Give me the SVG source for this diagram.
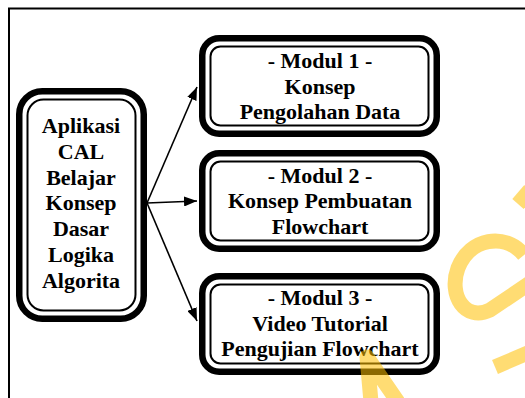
<svg xmlns="http://www.w3.org/2000/svg" width="525" height="398" viewBox="0 0 525 398">
<style>
.frame{fill:none;stroke:#000;stroke-width:2}
.outer{fill:#fff;stroke:#000;stroke-width:6.5}
.inner{fill:none;stroke:#000;stroke-width:2}
.t{font-family:"Liberation Serif","Times New Roman",serif;font-weight:bold;font-size:22px;fill:#000;text-anchor:middle}
.conn{stroke:#000;stroke-width:1.6;fill:none}
.wm{fill:none;stroke:#FFC000;stroke-opacity:0.55;stroke-width:15}
</style>
<defs>
<marker id="ah" markerUnits="userSpaceOnUse" markerWidth="14" markerHeight="10" refX="13" refY="5" orient="auto">
<path d="M0,0 L13,5 L0,10 z" fill="#000"/>
</marker>
</defs>
<rect width="525" height="398" fill="#fff"/>
<path class="frame" d="M9,400 L9,8.5 L530,8.5"/>

<g id="node-main">
<rect class="outer" x="19.25" y="91.25" width="124.5" height="227.5" rx="23"/>
<rect class="inner" x="27.5" y="99.5" width="108" height="211" rx="16"/>
<text class="t" x="81" y="133">Aplikasi</text>
<text class="t" x="81" y="158.8">CAL</text>
<text class="t" x="81" y="184.6">Belajar</text>
<text class="t" x="81" y="210.4">Konsep</text>
<text class="t" x="81" y="236.2">Dasar</text>
<text class="t" x="81" y="262">Logika</text>
<text class="t" x="81" y="287.8">Algorita</text>
</g>

<g id="node-modul1">
<rect class="outer" x="202.25" y="38.25" width="234.5" height="95.5" rx="17"/>
<rect class="inner" x="210.5" y="46.5" width="218" height="79" rx="10"/>
<text class="t" x="320" y="68">- Modul 1 -</text>
<text class="t" x="320" y="93.5">Konsep</text>
<text class="t" x="320" y="119">Pengolahan Data</text>
</g>

<g id="node-modul2">
<rect class="outer" x="202.25" y="153.25" width="234.5" height="95.5" rx="17"/>
<rect class="inner" x="210.5" y="161.5" width="218" height="79" rx="10"/>
<text class="t" x="320" y="182.5">- Modul 2 -</text>
<text class="t" x="320" y="208">Konsep Pembuatan</text>
<text class="t" x="320" y="233.5">Flowchart</text>
</g>

<g id="node-modul3">
<rect class="outer" x="202.25" y="276.25" width="234.5" height="95.5" rx="17"/>
<rect class="inner" x="210.5" y="284.5" width="218" height="79" rx="10"/>
<text class="t" x="320" y="305">- Modul 3 -</text>
<text class="t" x="320" y="330.5">Video Tutorial</text>
<text class="t" x="320" y="356">Pengujian Flowchart</text>
</g>

<g id="connectors">
<line class="conn" x1="147" y1="203" x2="197" y2="87" marker-end="url(#ah)"/>
<line class="conn" x1="147" y1="203" x2="197" y2="201" marker-end="url(#ah)"/>
<line class="conn" x1="147" y1="203" x2="197" y2="321" marker-end="url(#ah)"/>
</g>

<g id="watermark">
<path class="wm" stroke-width="10" d="M518,204 L530,190"/>
<path class="wm" d="M524,255 C505,232 470,238 458,268 C448,295 465,322 490,310 L530,283"/>
<path class="wm" stroke-width="13" d="M495,367 L530,352"/>
<path class="wm" stroke-linejoin="round" d="M371,402 L367,357 L398,402"/>
</g>
</svg>
